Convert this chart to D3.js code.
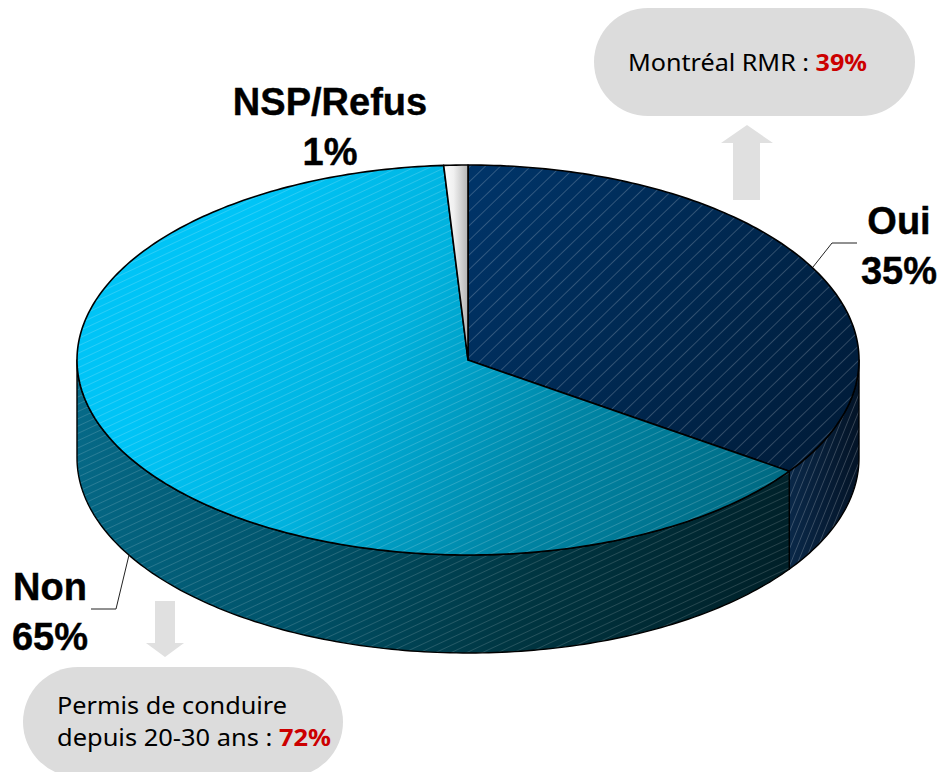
<!DOCTYPE html>
<html><head><meta charset="utf-8">
<script src="https://cdn.jsdelivr.net/npm/d3@7"></script>
<style>html,body{margin:0;padding:0;background:#fff}svg{display:block}</style>
</head><body><div id="c"></div>
<script>
const categories = ["Oui", "Non", "NSP/Refus"];
const values = [35, 65, 1];
const pctLabels = ["35%", "65%", "1%"];
const calloutTop = ["Montréal RMR : ", "39%"];
const calloutBottom = ["Permis de conduire", "depuis 20-30 ans : ", "72%"];

const W = 940, H = 772, cx = 468, cy = 360, rx = 391, ry = 195, depth = 98;
const svg = d3.select("#c").append("svg").attr("width", W).attr("height", H);
const defs = svg.append("defs");

function grad(id, x1, y1, x2, y2, stops) {
  const g = defs.append("linearGradient").attr("id", id).attr("gradientUnits", "userSpaceOnUse")
    .attr("x1", x1).attr("y1", y1).attr("x2", x2).attr("y2", y2);
  stops.forEach(s => g.append("stop").attr("offset", s[0]).attr("stop-color", s[1]));
}
grad("gOui", 480, 180, 850, 470, [[0, "#003468"], [0.5, "#002850"], [1, "#001a36"]]);
grad("gNon", 240, 240, 760, 540, [[0, "#00c4f6"], [0.3, "#00b2de"], [0.62, "#0086a6"], [1, "#006880"]]);
grad("gNsp", 442, 0, 468, 0, [[0, "#ffffff"], [0.45, "#f0f0f0"], [1, "#b4b4b4"]]);
grad("gSideNon", 77, 400, 790, 620, [[0, "#066a88"], [0.35, "#00536a"], [0.65, "#003642"], [1, "#001e26"]]);
grad("gSideOui", 790, 0, 860, 0, [[0, "#0a2848"], [1, "#031326"]]);

function hatch(id, gap, angle, op, w) {
  const p = defs.append("pattern").attr("id", id).attr("patternUnits", "userSpaceOnUse")
    .attr("width", 40).attr("height", gap).attr("patternTransform", `rotate(${angle})`);
  p.append("line").attr("x1", 0).attr("x2", 40).attr("y1", gap / 2).attr("y2", gap / 2)
    .attr("stroke", "#fff").attr("stroke-opacity", op).attr("stroke-width", w);
}
hatch("hOui", 10.5, -44, 0.24, 0.8);
hatch("hNon", 6.6, -25, 0.18, 0.9);
hatch("hSideNon", 6.6, -25, 0.16, 0.9);
hatch("hSideOui", 6.4, -68, 0.24, 0.8);

const xS = d3.scaleLinear().domain([-1, 1]).range([cx - rx, cx + rx]);
const yS = d3.scaleLinear().domain([-1, 1]).range([cy - ry, cy + ry]);
const ptTop = a => [xS(Math.sin(a)), yS(-Math.cos(a))];
const ptBot = a => [xS(Math.sin(a)), yS(-Math.cos(a)) + depth];
const line = d3.line();
const samples = (a0, a1) => { const n = Math.max(2, Math.ceil(Math.abs(a1 - a0) * 60));
  return d3.range(n + 1).map(i => a0 + (a1 - a0) * i / n); };

const arcs = d3.pie().sort(null).value(d => d)(values);
const [oui, non, nsp] = arcs;
const fills = ["url(#gOui)", "url(#gNon)", "url(#gNsp)"];
const hatches = ["url(#hOui)", "url(#hNon)", null];

function sidePath(a0, a1) {
  const t = samples(a0, a1).map(ptTop), b = samples(a1, a0).map(ptBot);
  return line(t.concat(b)) + "Z";
}
function topPath(d) {
  return line([[cx, cy]].concat(samples(d.startAngle, d.endAngle).map(ptTop))) + "Z";
}

const pieG = svg.append("g").attr("stroke-linejoin", "round");
const rt = Math.PI / 2, lf = 3 * Math.PI / 2;
[[rt, oui.endAngle, "gSideOui", "hSideOui"], [oui.endAngle, lf, "gSideNon", "hSideNon"]].forEach(s => {
  const d = sidePath(s[0], s[1]);
  pieG.append("path").attr("d", d).attr("fill", `url(#${s[2]})`);
  pieG.append("path").attr("d", d).attr("fill", `url(#${s[3]})`).attr("stroke", "#000").attr("stroke-width", 1.4);
});
arcs.forEach((d, i) => {
  const p = topPath(d);
  pieG.append("path").attr("d", p).attr("fill", fills[i]);
  if (hatches[i]) pieG.append("path").attr("d", p).attr("fill", hatches[i]);
  pieG.append("path").attr("d", p).attr("fill", "none").attr("stroke", "#000").attr("stroke-width", 1.6);
});

// leader lines
const leaders = [[[813, 267], [832, 243], [857, 243]], [[129, 555], [116, 609], [91, 609]]];
svg.selectAll(".leader").data(leaders).join("path").attr("class", "leader")
  .attr("d", line).attr("fill", "none").attr("stroke", "#222").attr("stroke-width", 1);

// big labels
const lab = svg.append("g").attr("font-family", "'Liberation Sans',Arial,sans-serif")
  .attr("font-weight", "bold").attr("font-size", 38).attr("fill", "#000").attr("text-anchor", "middle")
  .attr("stroke", "#000").attr("stroke-width", 0.4);
const labelPos = [[899, 234, 284], [50, 600, 650], [330, 115, 165]];
categories.forEach((c, i) => {
  lab.append("text").attr("x", labelPos[i][0]).attr("y", labelPos[i][1]).text(c);
  lab.append("text").attr("x", labelPos[i][0]).attr("y", labelPos[i][2]).text(pctLabels[i]);
});

// arrows
const grey = "#dcdcdc";
svg.append("path").attr("fill", "#e0e0e0").attr("d",
  line([[733, 200], [733, 143], [721, 143], [747, 125], [773, 143], [760, 143], [760, 200]]) + "Z");
svg.append("path").attr("fill", "#e0e0e0").attr("d",
  line([[155, 601], [175, 601], [175, 643], [184, 643], [165, 657], [146, 643], [155, 643]]) + "Z");

// callouts
svg.append("rect").attr("x", 594).attr("y", 8).attr("width", 321).attr("height", 108).attr("rx", 54).attr("fill", grey);
svg.append("rect").attr("x", 23).attr("y", 667).attr("width", 320).attr("height", 110).attr("rx", 55).attr("fill", grey);
const ff = "'Noto Sans',Tahoma,sans-serif", fs = 23;
const t1 = svg.append("text").attr("x", 628).attr("y", 71).attr("font-family", ff).attr("font-size", fs)
  .attr("textLength", 239).attr("lengthAdjust", "spacingAndGlyphs").attr("fill", "#000");
t1.append("tspan").text(calloutTop[0]);
t1.append("tspan").attr("fill", "#cc0000").attr("font-weight", "bold").text(calloutTop[1]);
svg.append("text").attr("x", 57).attr("y", 714).attr("font-family", ff).attr("font-size", fs)
  .attr("textLength", 230).attr("lengthAdjust", "spacingAndGlyphs").attr("fill", "#000").text(calloutBottom[0]);
const t2 = svg.append("text").attr("x", 57).attr("y", 746).attr("font-family", ff).attr("font-size", fs)
  .attr("textLength", 274).attr("lengthAdjust", "spacingAndGlyphs").attr("fill", "#000");
t2.append("tspan").text(calloutBottom[1]);
t2.append("tspan").attr("fill", "#cc0000").attr("font-weight", "bold").text(calloutBottom[2]);
</script></body></html>
